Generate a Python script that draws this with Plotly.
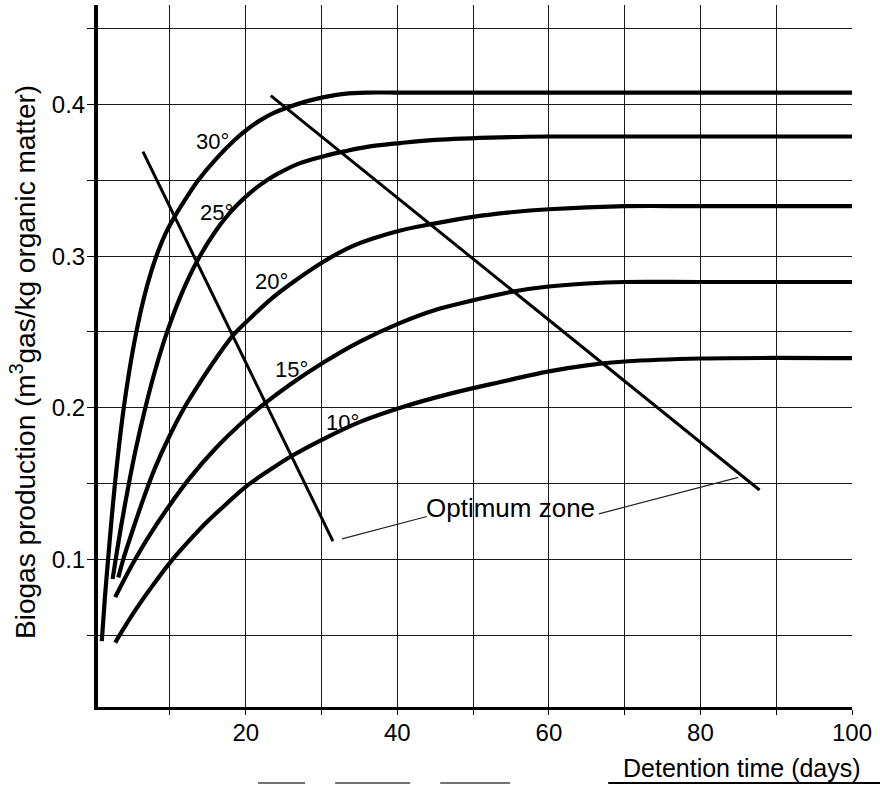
import plotly.graph_objects as go

# ---- data ----
days_30 = [1.0, 1.4, 1.9, 2.3, 2.7, 3.3, 3.9, 4.6, 5.45, 6.5, 7.5, 8.5, 9.5, 10.6, 12.0, 13.7, 16.0,
           18.6, 20.3, 22.0, 23.7, 25.4, 28.0, 30.3, 33.0, 36.0, 40, 60, 80, 100]
gas_30 = [0.046, 0.074, 0.104, 0.127, 0.148, 0.176, 0.2, 0.2234, 0.2473, 0.2713, 0.2895, 0.3041, 0.3159,
          0.326, 0.3373, 0.35, 0.3638, 0.377, 0.3841, 0.39, 0.3946, 0.398, 0.4022, 0.405, 0.4072, 0.408,
          0.408, 0.408, 0.408, 0.408]

days_25 = [2.43, 2.85, 3.5, 4.5, 5.5, 6.7, 8.0, 9.6, 11.5, 13.5, 16.0, 18.0, 20.0, 22.0, 24.0, 27.0,
           30.3, 33.0, 36.0, 40.4, 45.0, 53.6, 60, 70, 80, 100]
gas_25 = [0.087, 0.1006, 0.1204, 0.148, 0.173, 0.199, 0.2239, 0.2497, 0.2748, 0.296, 0.3165, 0.3292,
          0.3393, 0.3474, 0.3538, 0.3611, 0.366, 0.3692, 0.3722, 0.3747, 0.3768, 0.3785, 0.379, 0.379,
          0.379, 0.379]

days_20 = [3.18, 3.84, 5.0, 6.5, 8.0, 10.0, 12.0, 14.0, 16.0, 18.35, 21.0, 23.4, 26.0, 30.3, 33.8,
           37.0, 40.4, 44.3, 50.0, 55.0, 60, 70, 80, 100]
gas_20 = [0.088, 0.1, 0.118, 0.140, 0.160, 0.182, 0.201, 0.217, 0.232, 0.248, 0.261, 0.272, 0.282,
          0.2965, 0.306, 0.312, 0.317, 0.321, 0.326, 0.329, 0.331, 0.333, 0.333, 0.333]

days_15 = [2.77, 4.0, 5.3, 7.4, 10.0, 12.5, 16.0, 20.0, 22.3, 25.9, 30.3, 35.0, 40.4, 45.0, 50.1,
           55.0, 60, 65, 70, 80, 100]
gas_15 = [0.075, 0.087, 0.099, 0.1166, 0.136, 0.1529, 0.1731, 0.1924, 0.202, 0.2155, 0.23, 0.2435,
          0.256, 0.2645, 0.271, 0.2765, 0.28, 0.282, 0.283, 0.283, 0.283]

days_10 = [2.77, 4.0, 5.5, 7.4, 10.0, 12.5, 15.0, 17.5, 19.9, 23.0, 26.0, 30.3, 35.0, 40.4, 47.0,
           53.6, 60, 65, 70, 80, 100]
gas_10 = [0.045, 0.0552, 0.0669, 0.0805, 0.0978, 0.1121, 0.1252, 0.1368, 0.1475, 0.1584, 0.168,
          0.1795, 0.1905, 0.2, 0.2093, 0.217, 0.224, 0.228, 0.2305, 0.2325, 0.2327]

curve_days = [days_30, days_25, days_20, days_15, days_10]
curve_gas = [gas_30, gas_25, gas_20, gas_15, gas_10]

temp_labels = ["30°", "25°", "20°", "15°", "10°"]
temp_label_x = [15.6, 16.1, 23.45, 26.1, 32.7]
temp_label_y = [0.3755, 0.329, 0.2834, 0.2255, 0.190]

# optimum-zone straight lines
opt_left_x = [6.43, 31.5]
opt_left_y = [0.369, 0.112]
opt_right_x = [23.3, 87.8]
opt_right_y = [0.406, 0.1457]

# leader lines for the "Optimum zone" label
lead_left_x = [32.7, 43.9]
lead_left_y = [0.1135, 0.1282]
lead_right_x = [66.6, 85.0]
lead_right_y = [0.130, 0.154]

opt_label = "Optimum zone"
opt_label_x = 55.0
opt_label_y = 0.1337

x_tickvals = [10, 20, 30, 40, 50, 60, 70, 80, 90, 100]
x_ticktext = ["", "20", "", "40", "", "60", "", "80", "", "100"]
y_tickvals = [0.05, 0.10, 0.15, 0.20, 0.25, 0.30, 0.35, 0.40, 0.45]
y_ticktext = ["", "0.1", "", "0.2", "", "0.3", "", "0.4", ""]

x_title = "Detention time (days)"
y_title = "Biogas production (m<sup>3</sup>gas/kg organic matter)"

FONT = "Arial, Liberation Sans, Helvetica, sans-serif"

fig = go.Figure()

for dx, gy in zip(curve_days, curve_gas):
    fig.add_trace(go.Scatter(x=dx, y=gy, mode="lines",
                             line=dict(color="black", width=4.2, shape="spline", smoothing=1.0),
                             hoverinfo="skip", showlegend=False))

for lx, ly in [(opt_left_x, opt_left_y), (opt_right_x, opt_right_y)]:
    fig.add_trace(go.Scatter(x=lx, y=ly, mode="lines",
                             line=dict(color="black", width=3),
                             hoverinfo="skip", showlegend=False))

for lx, ly in [(lead_left_x, lead_left_y), (lead_right_x, lead_right_y)]:
    fig.add_trace(go.Scatter(x=lx, y=ly, mode="lines",
                             line=dict(color="#222", width=1.2),
                             hoverinfo="skip", showlegend=False))

for t, tx, ty in zip(temp_labels, temp_label_x, temp_label_y):
    fig.add_annotation(x=tx, y=ty, text=t, showarrow=False,
                       font=dict(family=FONT, size=22, color="black"))

fig.add_annotation(x=opt_label_x, y=opt_label_y, text=opt_label, showarrow=False,
                   font=dict(family=FONT, size=26, color="black"))

# axis titles
fig.add_annotation(xref="paper", yref="paper", x=1.015, y=-0.0869, text=x_title,
                   showarrow=False, xanchor="right", yanchor="middle",
                   font=dict(family=FONT, size=25, color="black"))
fig.add_annotation(xref="paper", yref="paper", x=-0.0995, y=0.4915, text=y_title,
                   showarrow=False, xanchor="center", yanchor="middle", textangle=-90,
                   font=dict(family=FONT, size=28, color="black"))

# underline below the x title and faint scan dashes at the bottom edge
fig.add_shape(type="line", xref="paper", yref="paper", x0=0.6767, x1=1.04, y0=-0.1083, y1=-0.1083,
              line=dict(color="black", width=2))
for a, b in [(0.2123, 0.2747), (0.3145, 0.414), (0.4538, 0.5466)]:
    fig.add_shape(type="line", xref="paper", yref="paper", x0=a, x1=b, y0=-0.1083, y1=-0.1083,
                  line=dict(color="#444", width=1.5))

fig.update_layout(
    width=880, height=785,
    margin=dict(l=98, r=28, t=5, b=78),
    paper_bgcolor="white", plot_bgcolor="white",
    showlegend=False,
    font=dict(family=FONT, color="black"),
    xaxis=dict(range=[0.5, 100], tickvals=x_tickvals, ticktext=x_ticktext,
               showgrid=True, gridcolor="#1a1a1a", gridwidth=1,
               showline=True, linecolor="black", linewidth=3,
               ticks="outside", ticklen=5, tickwidth=1, tickcolor="black",
               ticklabelstandoff=-3,
               tickfont=dict(family=FONT, size=24, color="black"),
               zeroline=False, fixedrange=True),
    yaxis=dict(range=[0.0025, 0.4658], tickvals=y_tickvals, ticktext=y_ticktext,
               showgrid=True, gridcolor="#1a1a1a", gridwidth=1,
               showline=True, linecolor="black", linewidth=4,
               ticks="outside", ticklen=7, tickwidth=1, tickcolor="black",
               ticklabelstandoff=-3,
               tickfont=dict(family=FONT, size=24, color="black"),
               zeroline=False, fixedrange=True),
)

fig.write_html("out.html", config={"displayModeBar": False},
               post_script="document.body.style.margin='0';document.body.style.overflow='hidden';")
